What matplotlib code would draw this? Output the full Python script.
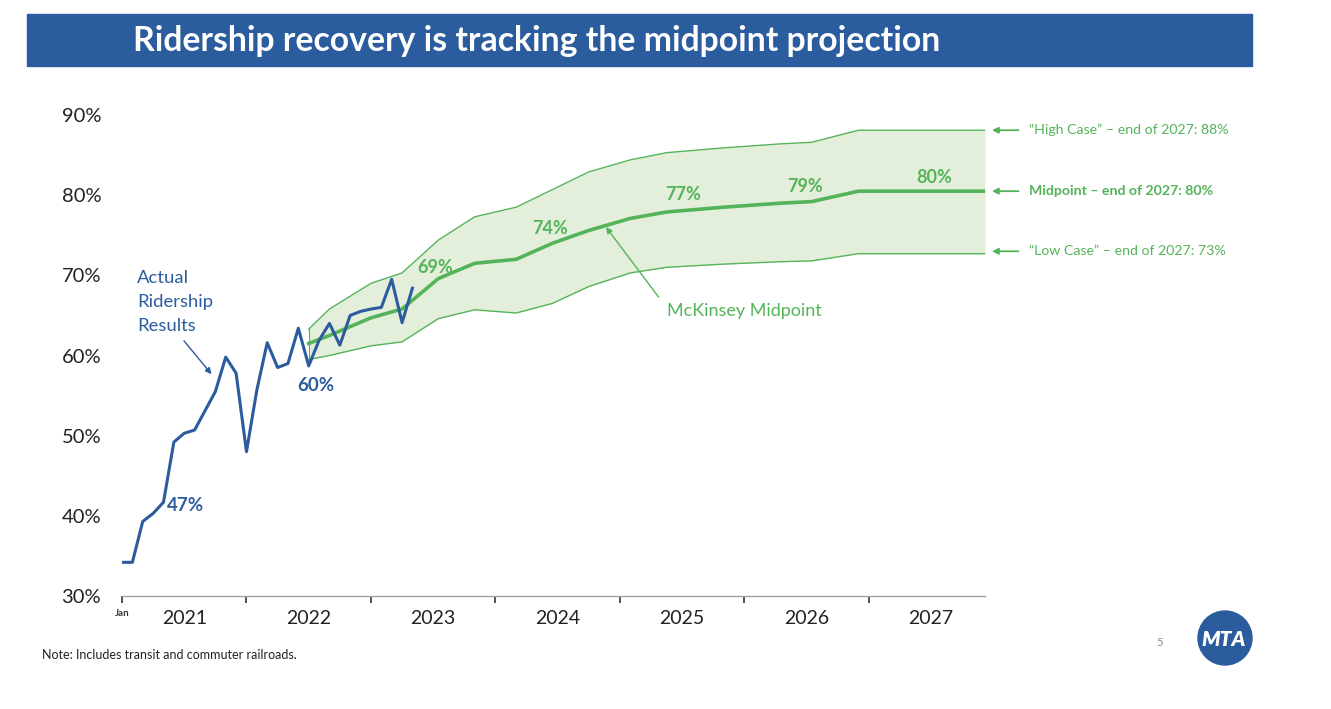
import matplotlib
matplotlib.use("Agg")
import matplotlib.pyplot as plt
from matplotlib.patches import Rectangle, Ellipse

# ---------------- data ----------------
# actual ridership, monthly from Jan 2021 (month index 0)
actual_month = list(range(29))
actual_pct = [34.2, 34.2, 39.3, 40.3, 41.7, 49.2, 50.3, 50.7, 53.1, 55.5,
              59.8, 57.8, 48.0, 55.7, 61.6, 58.5, 59.0, 63.4, 58.7, 61.9,
              64.0, 61.3, 65.0, 65.5, 65.8, 66.0, 69.5, 64.1, 68.4]

# McKinsey projection (month index from Jan 2021)
proj_month = [18, 20, 24, 27, 30.5, 34, 38, 41.5, 45, 49, 52.5, 58, 63.5, 66.5, 71, 83.2]
proj_high = [63.3, 65.8, 69.0, 70.3, 74.4, 77.3, 78.5, 80.7, 82.9, 84.4, 85.3, 85.9, 86.4, 86.6, 88.1, 88.1]
proj_mid = [61.5, 62.5, 64.7, 65.8, 69.6, 71.5, 72.0, 74.0, 75.6, 77.1, 77.9, 78.5, 79.0, 79.2, 80.5, 80.5]
proj_low = [59.5, 60.0, 61.2, 61.7, 64.6, 65.7, 65.3, 66.5, 68.6, 70.3, 71.0, 71.4, 71.7, 71.8, 72.7, 72.7]

year_labels = ["2021", "2022", "2023", "2024", "2025", "2026", "2027"]
year_centers = [6, 18, 30, 42, 54, 66, 78]
year_bounds = [12, 24, 36, 48, 60, 72]
y_ticks = [30, 40, 50, 60, 70, 80, 90]
y_ticklabels = ["30%", "40%", "50%", "60%", "70%", "80%", "90%"]

mid_labels = ["69%", "74%", "77%", "79%", "80%"]
mid_label_pos = [(30.2, 71.0), (41.3, 75.9), (54.1, 80.1), (65.8, 81.1), (78.3, 82.2)]

right_labels = ['\u201cHigh Case\u201d \u2013 end of 2027: 88%',
                'Midpoint \u2013 end of 2027: 80%',
                '\u201cLow Case\u201d \u2013 end of 2027: 73%']
right_values = [88.1, 80.5, 73.0]
right_bold = [False, True, False]

# ---------------- style ----------------
BLUE = "#2C5C9E"
GREEN = "#55B45A"
FILL = "#E3EFDA"
FONT = "Lato"
plt.rcParams["font.family"] = [FONT, "DejaVu Sans"]

W, H = 1331, 709
fig = plt.figure(figsize=(W / 100, H / 100), dpi=100)
fig.patch.set_facecolor("white")

# title banner
fig.add_artist(Rectangle((27 / W, 1 - 66 / H), (1252 - 27) / W, 52 / H,
                         transform=fig.transFigure, color="#2A5C9E", zorder=0))
fig.text(133 / W, 1 - 41 / H, "Ridership recovery is tracking the midpoint projection",
         color="white", fontsize=24.3, fontweight="bold", va="center", ha="left")

ax = fig.add_axes([122 / W, 1 - 596 / H, (985 - 122) / W, (596 - 115) / H])
ax.set_xlim(0, 83.2)
ax.set_ylim(30, 90)
for s in ["top", "right", "left"]:
    ax.spines[s].set_visible(False)
ax.spines["bottom"].set_color("#A0A0A0")
ax.spines["bottom"].set_linewidth(1.0)

ax.set_yticks(y_ticks)
ax.set_yticklabels(y_ticklabels)
ax.tick_params(axis="y", length=0, pad=15, labelsize=14.5, labelcolor="#222222")

ax.set_xticks([0] + year_bounds)
ax.set_xticklabels([""] * (len(year_bounds) + 1))
ax.tick_params(axis="x", which="major", length=5, width=1.2, color="#333333", direction="out")
ax.set_xticks(year_centers, minor=True)
ax.set_xticklabels(year_labels, minor=True)
ax.tick_params(axis="x", which="minor", length=0, pad=10, labelsize=14, labelcolor="#222222")
ax.text(0, -0.026, "Jan", transform=ax.get_xaxis_transform(), fontsize=7,
        fontweight="bold", ha="center", va="top", color="#333333")

# band
ax.fill_between(proj_month, proj_low, proj_high, color=FILL, lw=0, zorder=1)
ax.plot(proj_month, proj_high, color=GREEN, lw=1.0, zorder=2)
ax.plot(proj_month, proj_low, color=GREEN, lw=1.0, zorder=2)
ax.plot([proj_month[0], proj_month[0]], [proj_low[0], proj_high[0]], color=GREEN, lw=0.8, zorder=2)
ax.plot(proj_month, proj_mid, color=GREEN, lw=2.6, zorder=3)

# actual line
ax.plot(actual_month, actual_pct, color=BLUE, lw=2.2, zorder=4)

# labels
ax.text(4.3, 41.3, "47%", color=BLUE, fontsize=13.5, fontweight="bold", ha="left", va="center")
ax.text(18.7, 56.3, "60%", color=BLUE, fontsize=13.5, fontweight="bold", ha="center", va="center")
for lab, (xx, yy) in zip(mid_labels, mid_label_pos):
    ax.text(xx, yy, lab, color=GREEN, fontsize=13, fontweight="bold", ha="center", va="center")

ax.text(1.45, 66.7, "Actual\nRidership\nResults", color=BLUE, fontsize=13.3,
        ha="left", va="center", linespacing=1.6)
ax.annotate("", xy=(8.8, 57.4), xytext=(5.8, 62.1),
            arrowprops=dict(arrowstyle="-|>", color=BLUE, lw=1.0, mutation_scale=9))

ax.text(52.5, 65.6, "McKinsey Midpoint", color=GREEN, fontsize=13, ha="left", va="center")
ax.annotate("", xy=(46.5, 76.3), xytext=(51.9, 67.0),
            arrowprops=dict(arrowstyle="-|>", color=GREEN, lw=1.0, mutation_scale=9))

for lab, val, b in zip(right_labels, right_values, right_bold):
    ax.annotate("", xy=(83.6, val), xytext=(86.7, val), annotation_clip=False,
                arrowprops=dict(arrowstyle="-|>", color=GREEN, lw=1.3, mutation_scale=9))
    ax.text(87.4, val, lab, color=GREEN, fontsize=10.2, ha="left", va="center",
            fontweight="bold" if b else "normal", clip_on=False)

# footer
fig.text(42 / W, 1 - 655 / H, "Note: Includes transit and commuter railroads.",
         fontsize=9, color="#222222", ha="left", va="center")
fig.text(1160 / W, 1 - 642 / H, "5", fontsize=8, color="#888888", ha="center", va="center")
fig.add_artist(Ellipse((1225 / W, 1 - 638 / H), 54 / W, 54 / H,
                       transform=fig.transFigure, color="#2A5C9E", zorder=5))
fig.text(1224 / W, 1 - 639 / H, "MTA", fontsize=15, color="white", fontweight="heavy",
         ha="center", va="center", style="italic", zorder=6)

fig.savefig("out.png", dpi=100, facecolor="white")
